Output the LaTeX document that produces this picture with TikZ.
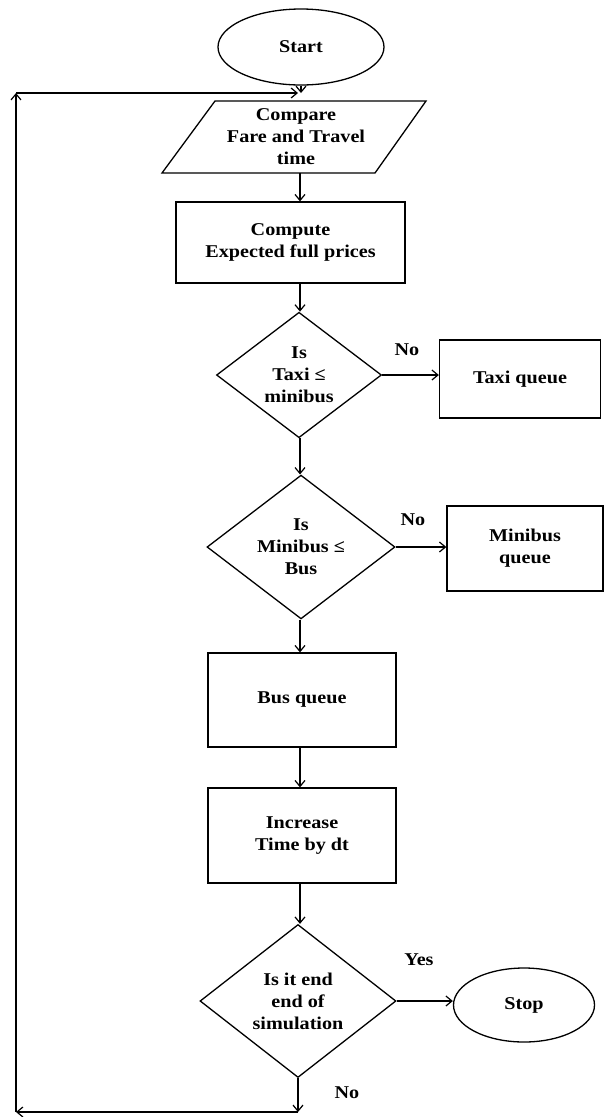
\documentclass[tikz,border=0pt]{standalone}
\usepackage{fontspec}
\setmainfont{Liberation Serif}[FakeStretch=1.12]
\usetikzlibrary{shapes.geometric,arrows.meta}
\tikzset{
  every node/.style={font=\fontsize{18}{22}\selectfont\bfseries, align=center, inner sep=0pt},
  ln/.style={line width=1.3pt, black},
  arr/.style={ln, -{Straight Barb[length=6pt,width=10pt,line width=1.2pt]}},
  boxn/.style={draw, ln, rectangle},
  decn/.style={draw, ln, diamond},
  termn/.style={draw, ln, ellipse},
  lbl/.style={font=\fontsize{18}{22}\selectfont\bfseries}
}
\begin{document}
\begin{tikzpicture}[x=1pt,y=-1pt]
\useasboundingbox (0,0) rectangle (606,1117);
\coordinate (axis) at (300,0);
% nodes
\node[termn, minimum width=166pt, minimum height=76pt] (start) at (301,47) {Start};
\draw[ln] (215,101) -- (426,101) -- (375,173) -- (162,173) -- cycle;
\node[minimum width=212pt, minimum height=72pt] (par) at (296,137) {Compare\\Fare and Travel\\time};
\node[boxn, minimum width=229pt, minimum height=81pt] (comp) at (290.5,242.5) {Compute\\Expected full prices};
\node[decn, minimum width=165pt, minimum height=124pt] (d1) at (299,375) {Is\\Taxi ≤\\minibus};
\node[boxn, minimum width=161pt, minimum height=78pt] (taxi) at (520,379) {Taxi queue};
\node[decn, minimum width=188pt, minimum height=135pt] (d2) at (301,547) {Is\\Minibus ≤\\Bus};
\node[boxn, minimum width=156pt, minimum height=85pt] (mini) at (525,548.5) {Minibus\\queue};
\node[boxn, minimum width=188pt, minimum height=94pt] (bus) at (302,700) {Bus queue};
\node[boxn, minimum width=188pt, minimum height=95pt] (inc) at (302,835.5) {Increase\\Time by dt};
\node[decn, minimum width=196pt, minimum height=153pt] (d3) at (298,1001) {Is it end\\end of\\simulation};
\node[termn, minimum width=141pt, minimum height=74pt] (stop) at (524,1005) {Stop};
% labels
\node[lbl] (l1) at (407,350) {No};
\node[lbl] (l2) at (413,520) {No};
\node[lbl] (l3) at (419,960) {Yes};
\node[lbl] (l4) at (347,1093) {No};
% loop coordinates
\coordinate (lb) at (298,1112);
\coordinate (lbl2) at (16,1112);
\coordinate (ltl) at (16,93);
\coordinate (ltr) at (298,93);
% connectors
\draw[arr] (start.south) -- (start.south |- ltr);
\draw[arr] (par.south -| axis) -- (comp.north -| axis);
\draw[arr] (comp.south -| axis) -- (d1.north -| axis);
\draw[arr] (d1.east) -- (taxi.west |- d1.east);
\draw[arr] (d1.south -| axis) -- (d2.north -| axis);
\draw[arr] (d2.east) -- (mini.west |- d2.east);
\draw[arr] (d2.south -| axis) -- (bus.north -| axis);
\draw[arr] (bus.south -| axis) -- (inc.north -| axis);
\draw[arr] (inc.south -| axis) -- (d3.north -| axis);
\draw[arr] (d3.east) -- (stop.west |- d3.east);
\draw[arr] (d3.south) -- (lb);
\draw[arr] (lb) -- (lbl2);
\draw[arr] (lbl2) -- (ltl);
\draw[arr] (ltl) -- (ltr);
\end{tikzpicture}
\end{document}
